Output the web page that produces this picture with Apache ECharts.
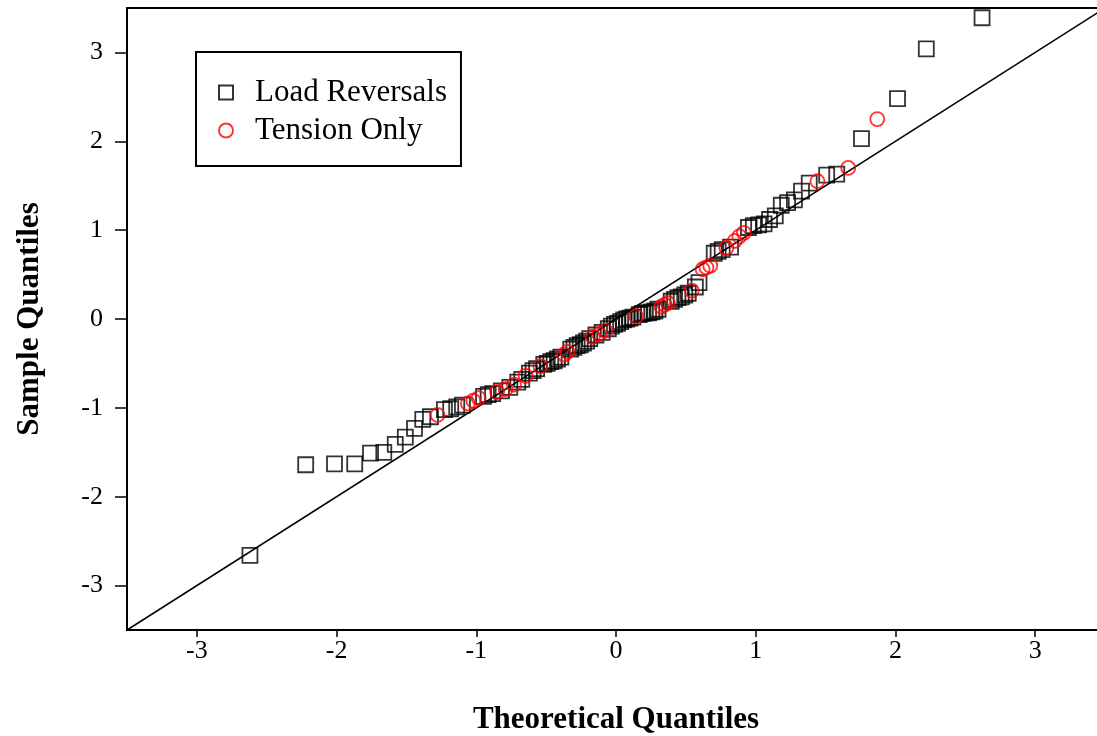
<!DOCTYPE html>
<html>
<head>
<meta charset="utf-8">
<script src="https://cdn.jsdelivr.net/npm/echarts@6/dist/echarts.min.js"></script>
<style>
  html, body { margin: 0; padding: 0; background: #fff; }
  #chart { width: 1097px; height: 736px; }
</style>
</head>
<body>
<div id="chart"></div>
<script>
// Normal Q-Q plot: theoretical quantile (x) vs. sample quantile (y)
const loadX = [
  -2.620, -2.221, -2.015, -1.870, -1.757, -1.662, -1.580, -1.508, -1.442, -1.383,
  -1.328, -1.228, -1.183, -1.140, -1.099, -0.948, -0.915, -0.883, -0.820, -0.760,
  -0.703, -0.6745, -0.620, -0.594, -0.568, -0.517, -0.492, -0.467, -0.443, -0.419,
  -0.395, -0.324, -0.301, -0.278, -0.256, -0.233, -0.210, -0.188, -0.1435, -0.099,
  -0.055, -0.033, -0.011,
  0.011, 0.033, 0.055, 0.077, 0.099, 0.121, 0.166, 0.188, 0.210, 0.233,
  0.256, 0.278, 0.301, 0.395, 0.419, 0.443, 0.467, 0.492, 0.517, 0.568,
  0.594, 0.703, 0.731, 0.760, 0.820, 0.948, 0.983, 1.021, 1.060, 1.099,
  1.140, 1.183, 1.228, 1.277, 1.328, 1.383, 1.508, 1.580, 1.757, 2.015,
  2.221, 2.620
];
const loadY = [
  -2.66, -1.64, -1.63, -1.63, -1.51, -1.50, -1.41, -1.33, -1.23, -1.13,
  -1.10, -1.02, -1.01, -0.99, -0.97, -0.87, -0.85, -0.84, -0.81, -0.77,
  -0.71, -0.68, -0.61, -0.58, -0.56, -0.51, -0.50, -0.48, -0.47, -0.45,
  -0.43, -0.34, -0.32, -0.30, -0.29, -0.27, -0.25, -0.22, -0.18, -0.15,
  -0.11, -0.08, -0.06,
  -0.05, -0.03, -0.01, 0.00, 0.01, 0.02, 0.05, 0.06, 0.07, 0.07,
  0.08, 0.09, 0.11, 0.20, 0.22, 0.24, 0.25, 0.27, 0.29, 0.36,
  0.41, 0.74, 0.76, 0.78, 0.81, 1.03, 1.05, 1.06, 1.07, 1.12,
  1.16, 1.28, 1.31, 1.34, 1.44, 1.53, 1.62, 1.63, 2.03, 2.48,
  3.04, 3.39
];
const tensionX = [
  -1.277, -1.060, -1.021, -0.983, -0.851, -0.790, -0.731, -0.647, -0.542, -0.371,
  -0.348, -0.166, -0.121, -0.077,
  0.1435, 0.324, 0.348, 0.371, 0.542, 0.620, 0.647, 0.6745, 0.790, 0.851,
  0.883, 0.915, 1.442, 1.662, 1.870
];
const tensionY = [
  -1.08, -0.95, -0.92, -0.89, -0.82, -0.79, -0.74, -0.64, -0.53, -0.40,
  -0.37, -0.20, -0.17, -0.13,
  0.03, 0.14, 0.16, 0.18, 0.32, 0.56, 0.58, 0.60, 0.80, 0.88,
  0.93, 0.97, 1.55, 1.70, 2.25
];
// 1:1 reference line
const refLine = [[-3.5, -3.5], [3.5, 3.5]];
const tickValues = [-3, -2, -1, 0, 1, 2, 3];

const pairs = (xs, ys) => xs.map((x, i) => [x, ys[i]]);
const serif = '"Liberation Serif", "Times New Roman", serif';

const chart = echarts.init(document.getElementById('chart'), null, { renderer: 'canvas' });

const axisCommon = {
  type: 'value',
  min: -3.5,
  max: 3.5,
  splitLine: { show: false },
  axisLine: { show: true, onZero: false, lineStyle: { color: '#000', width: 2 } },
  axisTick: {
    show: true,
    inside: false,
    customValues: tickValues,
    lineStyle: { color: '#000', width: 1.5 }
  },
  axisLabel: {
    customValues: tickValues,
    color: '#000',
    fontFamily: serif,
    fontSize: 26
  },
  nameLocation: 'middle',
  nameTextStyle: {
    color: '#000',
    fontFamily: serif,
    fontWeight: 'bold',
    fontSize: 31
  }
};

chart.setOption({
  animation: false,
  backgroundColor: '#fff',
  grid: {
    left: 127,
    top: 8,
    width: 978,
    height: 622,
    outerBoundsMode: 'none',
    containLabel: false,
    show: true,
    borderColor: '#000',
    borderWidth: 2,
    backgroundColor: 'transparent'
  },
  legend: {
    orient: 'vertical',
    left: 196,
    top: 52,
    padding: [25, 14, 20, 22],
    itemGap: 7,
    itemWidth: 14,
    itemHeight: 14,
    borderColor: '#000',
    borderWidth: 2,
    data: ['Load Reversals', 'Tension Only'],
    textStyle: {
      color: '#000',
      fontFamily: serif,
      fontSize: 31,
      lineHeight: 28,
      padding: [0, 0, 0, 17]
    }
  },
  xAxis: Object.assign({}, axisCommon, {
    name: 'Theoretical Quantiles',
    nameGap: 74,
    axisTick: Object.assign({}, axisCommon.axisTick, { length: 7 }),
    axisLabel: Object.assign({}, axisCommon.axisLabel, { margin: 8 })
  }),
  yAxis: Object.assign({}, axisCommon, {
    name: 'Sample Quantiles',
    nameGap: 82,
    axisTick: Object.assign({}, axisCommon.axisTick, { length: 12 }),
    axisLabel: Object.assign({}, axisCommon.axisLabel, { margin: 24 })
  }),
  series: [
    {
      type: 'line',
      data: refLine,
      symbol: 'none',
      silent: true,
      lineStyle: { color: '#000', width: 1.5 },
      z: 1
    },
    {
      name: 'Load Reversals',
      type: 'scatter',
      data: pairs(loadX, loadY),
      symbol: 'rect',
      symbolSize: 15,
      itemStyle: { color: 'rgba(0,0,0,0)', borderColor: '#000', borderWidth: 1.8 },
      z: 2
    },
    {
      name: 'Tension Only',
      type: 'scatter',
      data: pairs(tensionX, tensionY),
      symbol: 'circle',
      symbolSize: 14,
      itemStyle: { color: 'rgba(0,0,0,0)', borderColor: '#ff0000', borderWidth: 1.8 },
      z: 3
    }
  ]
});
</script>
</body>
</html>
